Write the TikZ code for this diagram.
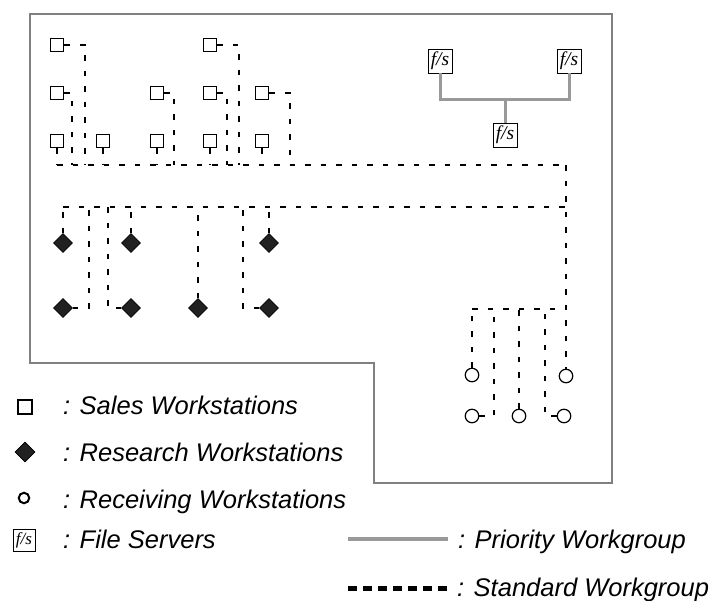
\documentclass[tikz,border=0pt]{standalone}
\usepackage{fontspec}
\setmainfont{Liberation Sans}
\newfontfamily\fsfont{Liberation Serif}
\usetikzlibrary{shapes.geometric}

\tikzset{
  outline/.style={draw=black!50, line width=1.3pt},
  net/.style={line width=2.6pt, dash pattern=on 5.5pt off 10pt},
  prio/.style={draw=black!40, line width=3pt},
  sales/.style={draw, fill=white, rectangle, minimum size=13.5pt, inner sep=0pt, line width=1pt},
  research/.style={draw, fill=black!87, diamond, aspect=1, minimum width=19pt, minimum height=19pt, inner sep=0pt, line width=0.6pt},
  receiving/.style={draw, fill=white, circle, minimum size=13.5pt, inner sep=0pt, line width=1.2pt},
  fserver/.style={draw, fill=white, rectangle, minimum size=24pt, inner sep=0pt, line width=0.9pt,
    font=\fsfont\itshape\fontsize{19.5}{20}\selectfont},
  legtext/.style={anchor=base west, inner sep=0pt, font=\itshape\fontsize{25.5}{30}\selectfont},
}

\begin{document}
\begin{tikzpicture}[x=1pt, y=-1pt]
\useasboundingbox (0,0) rectangle (717,600);

% floor outline
\draw[outline] (30,14) -- (612,14) -- (612,483) -- (374,483) -- (374,363) -- (30,363) -- cycle;

% ---------- sales workstations ----------
\node[sales] (s11) at (57,45) {};
\node[sales] (s12) at (57,93) {};
\node[sales] (s13) at (57,141) {};
\node[sales] (s2)  at (103,141) {};
\node[sales] (s31) at (157,93) {};
\node[sales] (s32) at (157,141) {};
\node[sales] (s41) at (210,45) {};
\node[sales] (s42) at (210,93) {};
\node[sales] (s43) at (210,141) {};
\node[sales] (s51) at (262,93) {};
\node[sales] (s52) at (262,141) {};

% ---------- research workstations ----------
\node[research] (d1) at (63,243) {};
\node[research] (d2) at (131,243) {};
\node[research] (d3) at (269,243) {};
\node[research] (d4) at (63,308) {};
\node[research] (d5) at (131,308) {};
\node[research] (d6) at (198,308) {};
\node[research] (d7) at (269,308) {};

% ---------- receiving workstations ----------
\node[receiving] (c1) at (472,375) {};
\node[receiving] (c2) at (566,376) {};
\node[receiving] (c3) at (472,416) {};
\node[receiving] (c4) at (519,416) {};
\node[receiving] (c5) at (564,416) {};

% ---------- file servers ----------
\node[fserver] (f1) at (440,61) {f/s};
\node[fserver] (f2) at (569,61) {f/s};
\node[fserver] (f3) at (505,135) {f/s};
\coordinate (pj) at (505,99);

% ---------- bus taps ----------
\coordinate (b1w) at (57,165);
\coordinate (b1e) at (566,165);
\coordinate (t12) at (72,165);
\coordinate (t11) at (85,165);
\coordinate (t31) at (174,165);
\coordinate (t42) at (227,165);
\coordinate (t41) at (239,165);
\coordinate (t51) at (290,165);

\coordinate (b2w) at (63,207);
\coordinate (b2e) at (566,207);
\coordinate (u4) at (89,207);
\coordinate (u5) at (108,207);
\coordinate (u7) at (243,207);

\coordinate (b3w) at (472,309);
\coordinate (b3e) at (566,309);
\coordinate (v3) at (494,309);
\coordinate (v5) at (545,309);

% ---------- standard workgroup ----------
\draw[net] (b1w) -- (b1e);
\draw[net] (b1e) -- (c2.north);
\draw[net] (b2w) -- (b2e);
\draw[net] (b3w) -- (b3e);

% sales drops
\draw[net] (s11.east) -| (t11);
\draw[net] (s12.east) -| (t12);
\draw[net] (s13.south) -- (s13.south |- b1w);
\draw[net] (s2.south) -- (s2.south |- b1w);
\draw[net] (s31.east) -| (t31);
\draw[net] (s32.south) -- (s32.south |- b1w);
\draw[net] (s41.east) -| (t41);
\draw[net] (s42.east) -| (t42);
\draw[net] (s43.south) -- (s43.south |- b1w);
\draw[net] (s51.east) -| (t51);
\draw[net] (s52.south) -- (s52.south |- b1w);

% research drops
\draw[net] (d1.north) -- (d1.north |- b2w);
\draw[net] (d2.north) -- (d2.north |- b2w);
\draw[net] (d3.north) -- (d3.north |- b2w);
\draw[net] (d6.north) -- (d6.north |- b2w);
\draw[net] (d4.east) -| (u4);
\draw[net] (d5.west) -| (u5);
\draw[net] (d7.west) -| (u7);

% receiving drops
\draw[net] (c1.north) -- (c1.north |- b3w);
\draw[net] (c4.north) -- (c4.north |- b3w);
\draw[net] (c3.east) -| (v3);
\draw[net] (c5.west) -| (v5);

% ---------- priority workgroup ----------
\draw[prio] (f1.south) |- (pj) -| (f2.south);
\draw[prio] (pj) -- (f3.north);

% ---------- legend ----------
\node[sales, minimum size=14pt, line width=2pt] (ls) at (25,407) {};
\node[legtext] (lst) at (63,414) {: Sales Workstations};
\node[research, minimum width=20pt, minimum height=20pt] (lr) at (25,452) {};
\node[legtext] (lrt) at (63,461) {: Research Workstations};
\node[receiving, minimum size=10.5pt, line width=2pt] (lc) at (24,498) {};
\node[legtext] (lct) at (63,508) {: Receiving Workstations};
\node[fserver, minimum size=22pt, font=\fsfont\itshape\fontsize{17}{18}\selectfont] (lf) at (24,540) {f/s};
\node[legtext] (lft) at (63,548) {: File Servers};

\coordinate (lpa) at (348,539);
\coordinate (lpb) at (448,539);
\draw[prio, line width=4.5pt] (lpa) -- (lpb);
\node[legtext] (lpt) at (458,548) {: Priority Workgroup};

\coordinate (lsa) at (348,588);
\coordinate (lsb) at (452,588);
\draw[line width=5pt, dash pattern=on 8.5pt off 6.5pt] (lsa) -- (lsb);
\node[legtext] (lsdt) at (457,596) {: Standard Workgroup};
\end{tikzpicture}
\end{document}
